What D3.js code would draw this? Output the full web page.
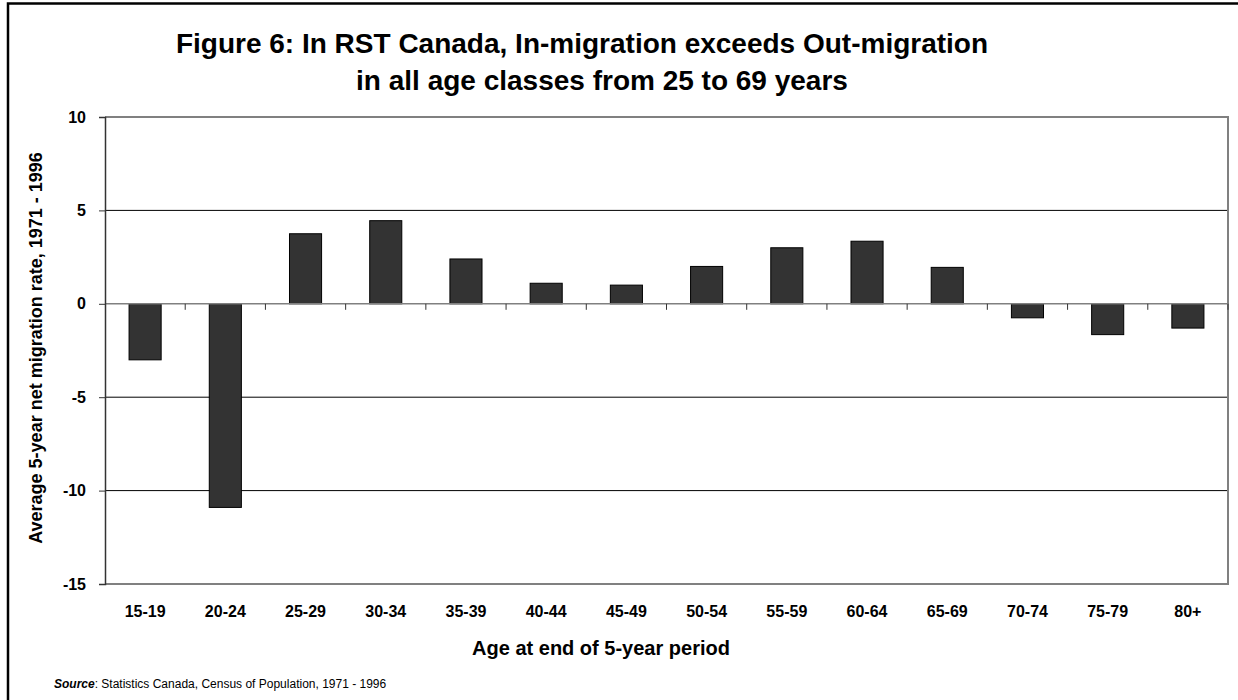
<!DOCTYPE html>
<html>
<head>
<meta charset="utf-8">
<script src="https://cdn.jsdelivr.net/npm/d3@7"></script>
<style>
  body { margin: 0; background: #fff; }
  svg { display: block; }
  text { font-family: "Liberation Sans", Arial, sans-serif; }
</style>
</head>
<body>
<svg id="chart" width="1238" height="700"></svg>
<script>
// data
const ageClasses = ['15-19', '20-24', '25-29', '30-34', '35-39', '40-44', '45-49',
    '50-54', '55-59', '60-64', '65-69', '70-74', '75-79', '80+'];
const netRates = [-3.0, -10.9, 3.75, 4.45, 2.4, 1.1, 1.0, 2.0, 3.0, 3.35, 1.95, -0.75, -1.65, -1.3];
const yTicks = [10, 5, 0, -5, -10, -15];
const titleLines = ['Figure 6: In RST Canada, In-migration exceeds Out-migration',
    'in all age classes from 25 to 69 years'];

const svg = d3.select('#chart');

const plot = { left: 105, right: 1228, top: 117, bottom: 584 };

const x = d3.scaleBand()
    .domain(ageClasses)
    .range([plot.left, plot.right]);

const y = d3.scaleLinear()
    .domain([-15, 10])
    .range([plot.bottom, plot.top]);

// outer frame
svg.append('rect')
    .attr('x', 8).attr('y', 3.5)
    .attr('width', 1250).attr('height', 720)
    .attr('fill', 'none')
    .attr('stroke', '#000')
    .attr('stroke-width', 2.5);

// title, each line centred a bit differently like the original
const titleX = [582, 602];
svg.append('g')
    .selectAll('text')
    .data(titleLines)
    .join('text')
    .attr('x', (d, i) => titleX[i])
    .attr('y', (d, i) => 53 + i * 37)
    .attr('text-anchor', 'middle')
    .attr('font-size', 28)
    .attr('font-weight', 'bold')
    .text(d => d);

// gridlines
svg.append('g')
    .selectAll('line')
    .data(yTicks.filter(d => d !== 10 && d !== -15 && d !== 0))
    .join('line')
    .attr('x1', plot.left).attr('x2', plot.right)
    .attr('y1', d => y(d)).attr('y2', d => y(d))
    .attr('stroke', '#000')
    .attr('stroke-width', 1);

// plot border (top, right, bottom)
svg.append('path')
    .attr('d', `M${plot.left},${plot.top} H${plot.right} V${plot.bottom} H${plot.left}`)
    .attr('fill', 'none')
    .attr('stroke', '#808080')
    .attr('stroke-width', 2);

// bars
svg.append('g')
    .selectAll('rect')
    .data(netRates)
    .join('rect')
    .attr('x', (d, i) => x(ageClasses[i]) + x.bandwidth() * 0.3)
    .attr('width', x.bandwidth() * 0.4)
    .attr('y', d => y(Math.max(0, d)))
    .attr('height', d => Math.abs(y(d) - y(0)))
    .attr('fill', '#333333')
    .attr('stroke', '#000')
    .attr('stroke-width', 1);

// zero line with category ticks
const xAxis = svg.append('g')
    .attr('transform', `translate(0,${y(0)})`);
xAxis.append('line')
    .attr('x1', plot.left).attr('x2', plot.right)
    .attr('stroke', '#808080').attr('stroke-width', 1.5);
xAxis.selectAll('.tick')
    .data(ageClasses)
    .join('line')
    .attr('x1', d => x(d) + x.bandwidth())
    .attr('x2', d => x(d) + x.bandwidth())
    .attr('y1', 0).attr('y2', 6)
    .attr('stroke', '#333').attr('stroke-width', 1);

// y axis
const yAxis = svg.append('g')
    .attr('transform', `translate(${plot.left},0)`)
    .call(d3.axisLeft(y).tickValues(yTicks).tickSize(6).tickPadding(13).tickFormat(d => String(d)));
yAxis.select('.domain').attr('stroke', '#333').attr('stroke-width', 1.5);
yAxis.selectAll('.tick line').attr('stroke', '#333');
yAxis.selectAll('.tick text')
    .attr('font-family', '"Liberation Sans", Arial, sans-serif')
    .attr('font-size', 16)
    .attr('font-weight', 'bold')
    .attr('fill', '#000');

// x category labels
svg.append('g')
    .selectAll('text')
    .data(ageClasses)
    .join('text')
    .attr('x', d => x(d) + x.bandwidth() / 2)
    .attr('y', 617)
    .attr('text-anchor', 'middle')
    .attr('font-size', 16)
    .attr('font-weight', 'bold')
    .text(d => d);

// axis titles
svg.append('text')
    .attr('x', 601).attr('y', 655)
    .attr('text-anchor', 'middle')
    .attr('font-size', 20)
    .attr('font-weight', 'bold')
    .text('Age at end of 5-year period');

svg.append('text')
    .attr('transform', 'translate(42,348) rotate(-90)')
    .attr('text-anchor', 'middle')
    .attr('font-size', 18)
    .attr('font-weight', 'bold')
    .text('Average 5-year net migration rate, 1971 - 1996');

// source note
const src = svg.append('text')
    .attr('x', 54).attr('y', 688)
    .attr('font-size', 12);
src.append('tspan').attr('font-weight', 'bold').attr('font-style', 'italic').text('Source');
src.append('tspan').text(': Statistics Canada, Census of Population, 1971 - 1996');
</script>
</body>
</html>
